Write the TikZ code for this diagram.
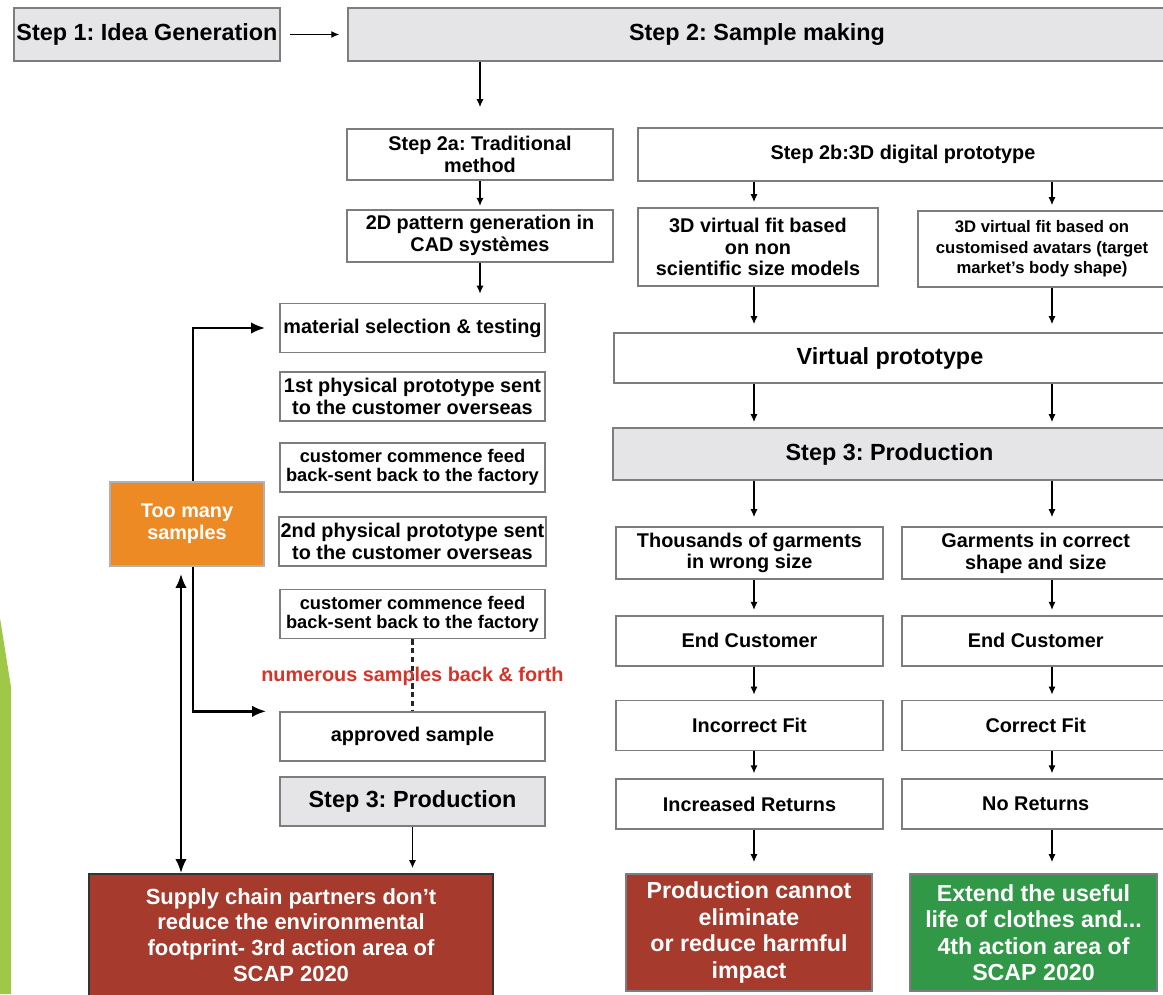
\documentclass[tikz,border=0pt]{standalone}
\usepackage{fontspec}
\setmainfont{Liberation Sans}
\usetikzlibrary{arrows.meta, positioning}
\frenchspacing

\definecolor{boxgray}{RGB}{229,229,232}
\definecolor{edgegray}{RGB}{125,125,128}
\definecolor{brick}{RGB}{166,58,45}
\definecolor{leafgreen}{RGB}{48,152,70}
\definecolor{samplesorange}{RGB}{238,138,36}
\definecolor{limebar}{RGB}{160,200,72}
\definecolor{noticered}{RGB}{214,52,40}

\newcommand{\fbig}{\fontsize{13.3}{15}\selectfont\bfseries}
\newcommand{\fmid}{\fontsize{11.3}{12.4}\selectfont\bfseries}
\newcommand{\fsml}{\fontsize{10.4}{11}\selectfont\bfseries}
\newcommand{\ftny}{\fontsize{9.5}{11.6}\selectfont\bfseries}
\newcommand{\fout}{\fontsize{13.2}{15.1}\selectfont\bfseries}

\tikzstyle{whitebox} = [rectangle, draw=edgegray, line width=1pt, fill=white, align=center, inner sep=1pt, font=\fmid]
\tikzstyle{stepbox} = [whitebox, fill=boxgray, font=\fbig]
\tikzstyle{outcome} = [rectangle, draw=edgegray, line width=1pt, align=center, inner sep=1pt, text=white, font=\fout]
\tikzstyle{leftcol} = [minimum width=5.3cm, minimum height=0.98cm]
\tikzstyle{midcol} = [minimum width=5.34cm, minimum height=1cm]
\tikzstyle{rightcol} = [minimum width=5.36cm, minimum height=1cm]
\tikzstyle{arrow} = [line width=0.7pt, -{Latex[length=4.5pt,width=4pt]}, shorten >=0.1cm]
\tikzstyle{feedback} = [line width=1.4pt, -{Latex[length=8pt,width=6.5pt]}]
\tikzstyle{loopline} = [line width=1.4pt, black!85, dash pattern=on 3pt off 2pt]

\begin{document}
\begin{tikzpicture}[x=0.02cm, y=-0.02cm]
\clip (0,0) rectangle (1163,994);
\fill[limebar] (0,618) -- (11,687) -- (11,994) -- (0,994) -- cycle;

% steps 1 and 2
\node (idea) [stepbox, minimum width=5.32cm, minimum height=1.06cm] at (147,34.5) {Step 1: Idea Generation};
\node (sample) [stepbox, minimum width=16.36cm, minimum height=1.06cm] at (757,34.5) {Step 2: Sample making};

% traditional method
\node (trad) [whitebox, minimum width=5.32cm, minimum height=1.02cm] at (480,154.5) {Step 2a: Traditional\\method};
\node (pattern) [whitebox, minimum width=5.32cm, minimum height=1.04cm, below=0.56cm of trad] {2D pattern generation in\\CAD systèmes};
\node (material) [whitebox, leftcol] at (412.5,328) {material selection \& testing};
\node (proto1) [whitebox, leftcol, below=0.36cm of material] {1st physical prototype sent\\to the customer overseas};
\node (fb1) [whitebox, leftcol, font=\fsml, below=0.4cm of proto1] {customer commence feed\\back-sent back to the factory};
\node (proto2) [whitebox, leftcol, below=0.46cm of fb1] {2nd physical prototype sent\\to the customer overseas};
\node (fb2) [whitebox, leftcol, font=\fsml, below=0.44cm of proto2] {customer commence feed\\back-sent back to the factory};
\node (approved) [whitebox, leftcol, below=1.44cm of fb2] {approved sample};
\node (prodL) [stepbox, leftcol, below=0.28cm of approved] {Step 3: Production};
\draw [loopline] (fb2.south) -- (approved.north);
\node (loop) [text=noticered, font=\fmid, inner sep=1pt] at (412.5,676) {numerous samples back \& forth};

\node (toomany) [outcome, fill=samplesorange, draw=edgegray!60, font=\fmid, minimum width=3.08cm, minimum height=1.68cm] at (187,524) {Too many\\samples};
\node (supply) [outcome, fill=brick, draw=black!80, font=\fontsize{12.5}{14.7}\selectfont\bfseries, minimum width=8.08cm, minimum height=2.44cm] at (291,935) {Supply chain partners don't\\reduce the environmental\\footprint- 3rd action area of\\SCAP 2020};

% 3D digital prototype
\node (digital) [whitebox, minimum width=10.6cm, minimum height=1.06cm] at (903,154.5) {Step 2b:3D digital prototype};
\node (fitA) [whitebox, minimum width=4.8cm, minimum height=1.56cm] at (758,247) {3D virtual fit based\\on non\\scientific size models};
\node (fitB) [whitebox, font=\ftny, minimum width=4.96cm, minimum height=1.52cm] at (1042,249) {3D virtual fit based on\\customised avatars (target\\market's body shape)};
\node (virtual) [whitebox, font=\fbig, minimum width=11.04cm, minimum height=1cm] at (890,358) {Virtual prototype};
\node (prodR) [stepbox, minimum width=11.06cm, minimum height=1.04cm] at (889.5,454) {Step 3: Production};

\node (thousands) [whitebox, midcol, minimum height=1.04cm] at (749.5,553) {Thousands of garments\\in wrong size};
\node (endL) [whitebox, midcol, below=0.7cm of thousands] {End Customer};
\node (incorrect) [whitebox, midcol, below=0.66cm of endL] {Incorrect Fit};
\node (increased) [whitebox, midcol, below=0.54cm of incorrect] {Increased Returns};
\node (harm) [outcome, fill=brick, minimum width=4.92cm, minimum height=2.34cm] at (749,932.5) {Production cannot\\eliminate\\or reduce harmful\\impact};

\node (garments) [whitebox, rightcol, minimum height=1.04cm, right=0.34cm of thousands] {Garments in correct\\shape and size};
\node (endR) [whitebox, rightcol, right=0.34cm of endL] {End Customer};
\node (correct) [whitebox, rightcol, right=0.34cm of incorrect] {Correct Fit};
\node (noret) [whitebox, rightcol, right=0.34cm of increased] {No Returns};
\node (extend) [outcome, fill=leafgreen, minimum width=4.94cm, minimum height=2.34cm] at (1033.5,932.5) {Extend the useful\\life of clothes and...\\4th action area of\\SCAP 2020};

\coordinate (colL) at (754,0);
\coordinate (colR) at (1052,0);
\coordinate (fbx) at (193,0);
\coordinate (dbx) at (181,0);

% connectors
\draw [arrow, shorten <=0.18cm, shorten >=0.16cm] (idea) -- (sample);
\draw [arrow, shorten >=0.42cm] (sample.south -| trad.north) -- (trad.north);
\draw [arrow, shorten >=0.06cm] (trad) -- (pattern);
\draw [arrow, shorten >=0.18cm] (pattern.south) -- (pattern.south |- material.north);
\draw [arrow] (prodL.south) -- (prodL.south |- supply.north);

\draw [feedback, shorten >=0.28cm] (toomany.north -| fbx) |- (material.west);
\draw [feedback, shorten >=0.26cm] (toomany.south -| fbx) |- (approved.north west);
\draw [feedback, {Latex[length=8pt,width=6.5pt]}-{Latex[length=8pt,width=6.5pt]}, shorten <=0.14cm] (toomany.south -| dbx) -- (supply.north -| dbx);

\draw [arrow] (digital.south -| colL) -- (fitA.north -| colL);
\draw [arrow] (digital.south -| colR) -- (fitB.north -| colR);
\draw [arrow, shorten >=0.16cm] (fitA.south -| colL) -- (virtual.north -| colL);
\draw [arrow, shorten >=0.16cm] (fitB.south -| colR) -- (virtual.north -| colR);
\draw [arrow] (virtual.south -| colL) -- (prodR.north -| colL);
\draw [arrow] (virtual.south -| colR) -- (prodR.north -| colR);
\draw [arrow, shorten >=0.18cm] (prodR.south -| colL) -- (thousands.north -| colL);
\draw [arrow, shorten >=0.18cm] (prodR.south -| colR) -- (garments.north -| colR);
\draw [arrow] (thousands.south -| colL) -- (endL.north -| colL);
\draw [arrow] (garments.south -| colR) -- (endR.north -| colR);
\draw [arrow] (endL.south -| colL) -- (incorrect.north -| colL);
\draw [arrow] (endR.south -| colR) -- (correct.north -| colR);
\draw [arrow] (incorrect.south -| colL) -- (increased.north -| colL);
\draw [arrow] (correct.south -| colR) -- (noret.north -| colR);
\draw [arrow, shorten >=0.22cm] (increased.south -| colL) -- (harm.north -| colL);
\draw [arrow, shorten >=0.22cm] (noret.south -| colR) -- (extend.north -| colR);
\end{tikzpicture}
\end{document}
